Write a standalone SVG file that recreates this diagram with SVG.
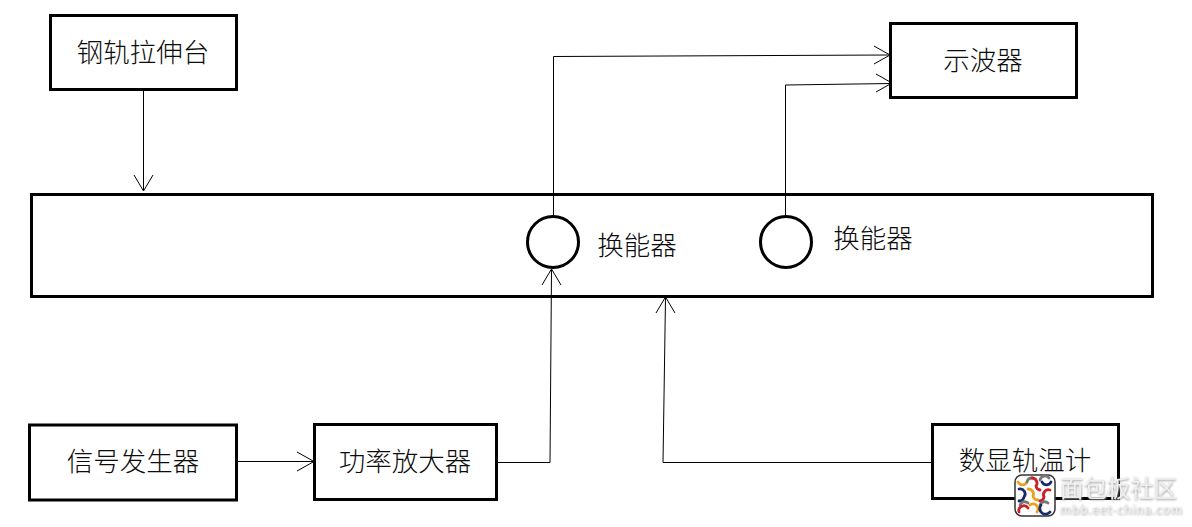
<svg xmlns="http://www.w3.org/2000/svg" width="1192" height="527" viewBox="0 0 1192 527">
<defs>
<filter id="halo" x="-10%" y="-30%" width="120%" height="160%"><feDropShadow dx="0.500" dy="1" stdDeviation="1.100" flood-color="#9a9a9a"/></filter>
</defs>
<style>
.box{fill:#fff;stroke:#000;stroke-width:3}
.lbl{font-family:"Noto Sans CJK SC","Liberation Sans",sans-serif;font-weight:300;font-size:26.500px;fill:#0c0c0c;text-anchor:middle;dominant-baseline:central}
.wire{fill:none;stroke:#000;stroke-width:1}
.wm{font-family:"Noto Sans CJK SC",sans-serif;fill:#eeeeee;filter:url(#halo)}
.arc{fill:none;stroke-width:2.800;stroke-linecap:round}
</style>
<rect width="1192" height="527" fill="#fff"/>
<g id="rail-tester"><rect class="box" x="50.500" y="15.500" width="186" height="74"/><text class="lbl" x="143" y="50">钢轨拉伸台</text></g>
<g id="oscilloscope"><rect class="box" x="890.500" y="23.500" width="186" height="74"/><text class="lbl" x="983" y="58">示波器</text></g>
<g id="rail"><rect class="box" x="31.500" y="194.500" width="1121" height="102"/></g>
<g id="transducer-1"><circle class="box" cx="553" cy="242" r="25.500"/><text class="lbl" x="637" y="243">换能器</text></g>
<g id="transducer-2"><circle class="box" cx="786" cy="242" r="25.500"/><text class="lbl" x="873" y="236">换能器</text></g>
<g id="signal-generator"><rect class="box" x="29.500" y="425" width="207" height="75"/><text class="lbl" x="133" y="459">信号发生器</text></g>
<g id="amplifier"><rect class="box" x="314.500" y="424.500" width="182" height="75"/><text class="lbl" x="405" y="459">功率放大器</text></g>
<g id="thermometer"><rect class="box" x="932.500" y="424.500" width="186" height="74"/><text class="lbl" x="1025" y="458">数显轨温计</text></g>
<g id="connectors">
<path class="wire" d="M143.500 90V190"/><path class="wire" d="M134 175L143.500 191L153 175"/>
<path class="wire" d="M553.500 216V56.500L889 55"/><path class="wire" d="M874 46L890 55L874 64"/>
<path class="wire" d="M785.500 215V85L891 83.500"/><path class="wire" d="M876 74L892 83L876 92"/>
<path class="wire" d="M237 461.500H313"/><path class="wire" d="M297 452L314 461.500L297 471"/>
<path class="wire" d="M497 462.500H550L551.500 270"/><path class="wire" d="M542 285L551.500 269L561 285"/>
<path class="wire" d="M931 462.500H663L665.500 298"/><path class="wire" d="M656 313L665.500 297L675 313"/>
</g>
<g id="site-mark">
<rect x="1015" y="475" width="40" height="41" rx="7" fill="#fff" stroke="#333" stroke-width="1.500"/>
<g class="arc">
<path stroke="#eaa21c" d="M1018 482a5 5 0 0 0 9 0"/>
<path stroke="#777" d="M1027 482a5 5 0 0 1 5-4"/>
<path stroke="#c9202a" d="M1032 478a5 5 0 0 1 4 8a5 5 0 0 0 4 4"/>
<path stroke="#777" d="M1040 480a5 5 0 0 1 9-2"/>
<path stroke="#152a6e" d="M1042 482a5 5 0 0 0 9 0"/>
<path stroke="#152a6e" d="M1019 489a5 5 0 0 1 5 8a5 5 0 0 1 -5 4"/>
<path stroke="#eaa21c" d="M1028 489a5 5 0 0 1 5 7a5 5 0 0 0 5 4"/>
<path stroke="#c9202a" d="M1050 490a5 5 0 0 0 -6 7a5 5 0 0 1 -4 4"/>
<path stroke="#777" d="M1020 505a5 5 0 0 1 8-2"/>
<path stroke="#777" d="M1040 505a5 5 0 0 1 8-2"/>
<path stroke="#c9202a" d="M1019 512a5 5 0 0 1 9-4"/>
<path stroke="#eaa21c" d="M1030 505a5 5 0 0 1 7 7"/>
<path stroke="#152a6e" d="M1041 505a5 5 0 0 0 9 7"/>
</g>
<text class="wm" x="1060" y="497" font-size="23.500" textLength="117">面包板社区</text>
<text class="wm" x="1060" y="514" font-size="12" textLength="122">mbb.eet-china.com</text>
</g>
</svg>
